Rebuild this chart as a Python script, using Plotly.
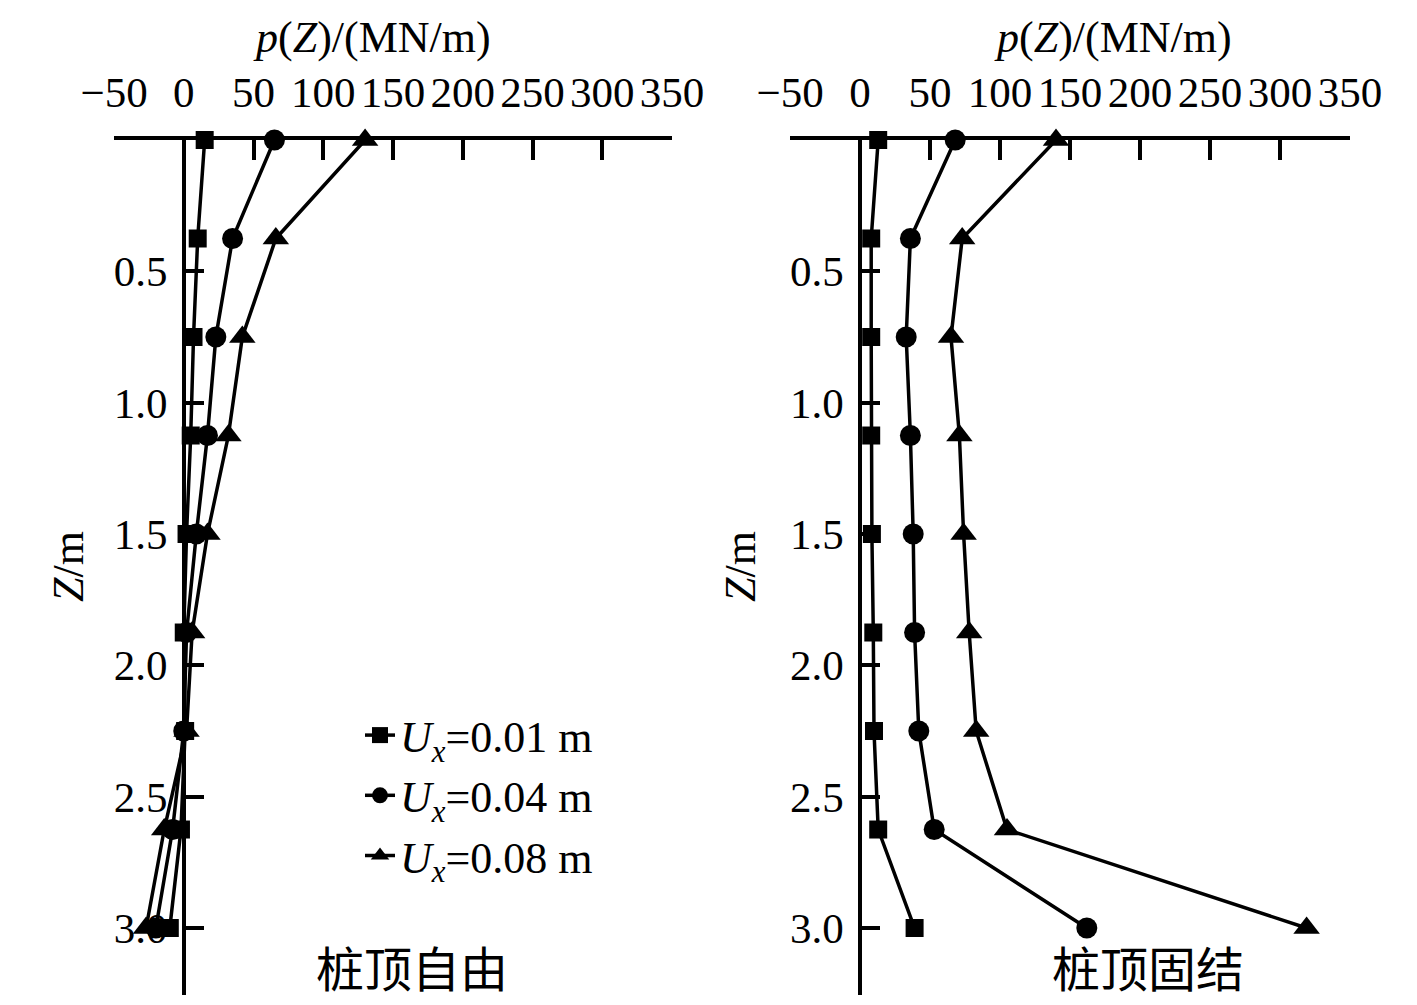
import plotly.graph_objects as go

W, H = 1417, 1005
OFF = 8  # page body margin offset

# ---------------- data ----------------
depth_z = [0.0, 0.375, 0.75, 1.125, 1.5, 1.875, 2.25, 2.625, 3.0]
series_names = ["<i>U</i><sub><i>x</i></sub>=0.01 m",
                "<i>U</i><sub><i>x</i></sub>=0.04 m",
                "<i>U</i><sub><i>x</i></sub>=0.08 m"]

# pile head free (桩顶自由)
free_001 = [15, 10, 7, 5, 2, 0, 1, -2, -10]
free_004 = [65, 35, 23, 17, 9, 2, 0, -8, -20]
free_008 = [130, 66, 42, 32, 17, 6, 2, -14, -27]

# pile head fixed (桩顶固结)
fixed_001 = [13, 8, 8, 8, 8.5, 9.5, 10, 13, 39]
fixed_004 = [68, 36, 33, 36, 38, 39, 42, 53, 162]
fixed_008 = [140, 73, 65, 71, 74, 78, 83, 105, 319]

x_ticks = [-50, 0, 50, 100, 150, 200, 250, 300, 350]
x_ticktext = ["\u221250", "0", "50", "100", "150", "200", "250", "300", "350"]
y_ticks = [0.5, 1.0, 1.5, 2.0, 2.5, 3.0]
y_ticktext = ["0.5", "1.0", "1.5", "2.0", "2.5", "3.0"]

panel_titles = ["桩顶自由", "桩顶固结"]
x_title = "<i>p</i>(<i>Z</i>)/(MN/m)"
y_title = "<i>Z</i>/m"

# ---------------- layout helpers ----------------
SERIF = "Liberation Serif"
CJK = "Noto Sans CJK SC"
symbols = ["square", "circle", "triangle-up"]
msizes = [18, 21, 23]

def px_x(p):
    return (p - OFF) / W

def px_y(p):
    return 1 - (p - OFF) / H

x_range = [-50, 350]
y_range = [3.255, 0]
left_dom = [114, 672]
right_dom = [790, 1350]
y_dom = [px_y(995), px_y(140)]

fig = go.Figure()

left_data = [free_001, free_004, free_008]
right_data = [fixed_001, fixed_004, fixed_008]

for i in range(3):
    fig.add_trace(go.Scatter(
        x=left_data[i], y=depth_z, mode="lines+markers", name=series_names[i],
        line=dict(color="black", width=3.5),
        marker=dict(symbol=symbols[i], size=msizes[i], color="black"),
        xaxis="x", yaxis="y", showlegend=True, cliponaxis=False))
for i in range(3):
    fig.add_trace(go.Scatter(
        x=right_data[i], y=depth_z, mode="lines+markers", name=series_names[i],
        line=dict(color="black", width=3.5),
        marker=dict(symbol=symbols[i], size=msizes[i], color="black"),
        xaxis="x2", yaxis="y2", showlegend=False, cliponaxis=False))

def x_axis(dom, anchor):
    return dict(domain=[px_x(dom[0]), px_x(dom[1])], range=x_range, side="top",
                anchor=anchor, showline=True, linecolor="black", linewidth=3.5,
                ticks="inside", ticklen=20, tickwidth=3.5, tickcolor="black",
                tickvals=x_ticks, ticktext=x_ticktext, tickangle=0,
                ticklabelstandoff=12,
                showgrid=False, zeroline=False, automargin=False,
                tickfont=dict(family=SERIF, size=43, color="black"))

def y_axis(dom):
    zero_px = dom[0] + (dom[1] - dom[0]) * (0 - x_range[0]) / (x_range[1] - x_range[0])
    return dict(domain=y_dom, range=y_range, anchor="free", position=px_x(zero_px),
                showline=True, linecolor="black", linewidth=3.5,
                ticks="inside", ticklen=18, tickwidth=3.5, tickcolor="black",
                tickvals=y_ticks, ticktext=y_ticktext, tickangle=0,
                ticklabelstandoff=6,
                showgrid=False, zeroline=False, automargin=False,
                tickfont=dict(family=SERIF, size=43, color="black"))

annotations = []
for tx, yx in [(372, 68), (1113, 740)]:
    annotations.append(dict(text=x_title, xref="paper", yref="paper",
                            x=px_x(tx), y=px_y(38),
                            showarrow=False, xanchor="center", yanchor="middle",
                            font=dict(family=SERIF, size=44, color="black")))
    annotations.append(dict(text=y_title, xref="paper", yref="paper",
                            x=px_x(yx), y=px_y(567), textangle=-90,
                            showarrow=False, xanchor="center", yanchor="middle",
                            font=dict(family=SERIF, size=44, color="black")))
annotations.append(dict(text=panel_titles[0], xref="paper", yref="paper",
                        x=px_x(412), y=px_y(966), showarrow=False,
                        xanchor="center", yanchor="middle",
                        font=dict(family=CJK, size=48, color="black")))
annotations.append(dict(text=panel_titles[1], xref="paper", yref="paper",
                        x=px_x(1148), y=px_y(966), showarrow=False,
                        xanchor="center", yanchor="middle",
                        font=dict(family=CJK, size=48, color="black")))

fig.update_layout(
    template="none",
    width=W, height=H, autosize=False,
    margin=dict(l=0, r=0, t=0, b=0, pad=0),
    paper_bgcolor="white", plot_bgcolor="white",
    xaxis=x_axis(left_dom, "y"),
    yaxis=y_axis(left_dom),
    xaxis2=x_axis(right_dom, "y2"),
    yaxis2=y_axis(right_dom),
    annotations=annotations,
    legend=dict(x=px_x(360), y=px_y(700), xanchor="left", yanchor="top",
                bgcolor="rgba(0,0,0,0)", borderwidth=0, tracegroupgap=0,
                font=dict(family=SERIF, size=44, color="black")),
    showlegend=True,
)

fig.write_html("out.html")
